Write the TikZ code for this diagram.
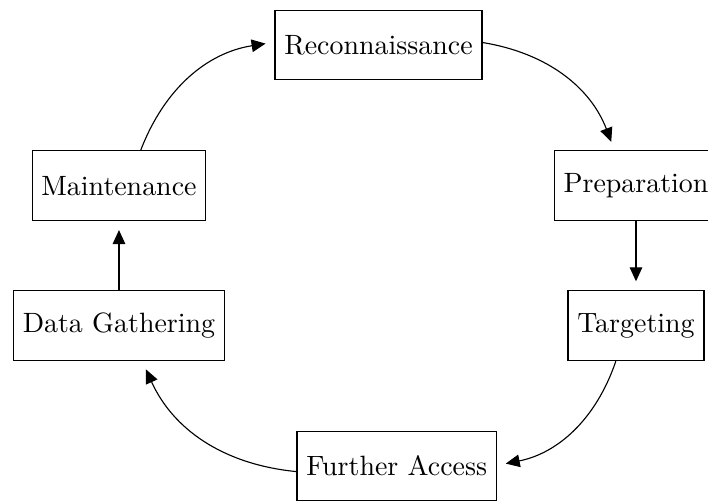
\documentclass[tikz,border=0pt]{standalone}
\usepackage{tikz}
\usetikzlibrary{arrows.meta}

\begin{document}
\begin{tikzpicture}[
    phase/.style={draw, rectangle, minimum height=25pt},
    flow/.style={-{Triangle[length=5pt,width=4.5pt]}, shorten >=3.2pt}
]
    \useasboundingbox (0,0) rectangle (8.908,6.291);

    % Phases of the cycle
    \node[phase] (recon) at (4.762,5.725) {Reconnaissance};
    \node[phase] (prep) at (8.002,3.955) {Preparation};
    \node[phase] (targ) at (8.002,2.193) {Targeting};
    \node[phase] (further) at (4.991,0.428) {Further Access};
    \node[phase] (gather) at (1.497,2.193) {Data Gathering};
    \node[phase] (maint) at (1.497,3.955) {Maintenance};

    % Cycle arrows
    \draw[flow] (recon) to[bend left] (prep);
    \draw[flow] (prep) -- (targ);
    \draw[flow] (targ) to[bend left] (further);
    \draw[flow] (further) to[bend left] (gather);
    \draw[flow] (gather) -- (maint);
    \draw[flow] (maint) to[bend left] (recon);
\end{tikzpicture}
\end{document}
